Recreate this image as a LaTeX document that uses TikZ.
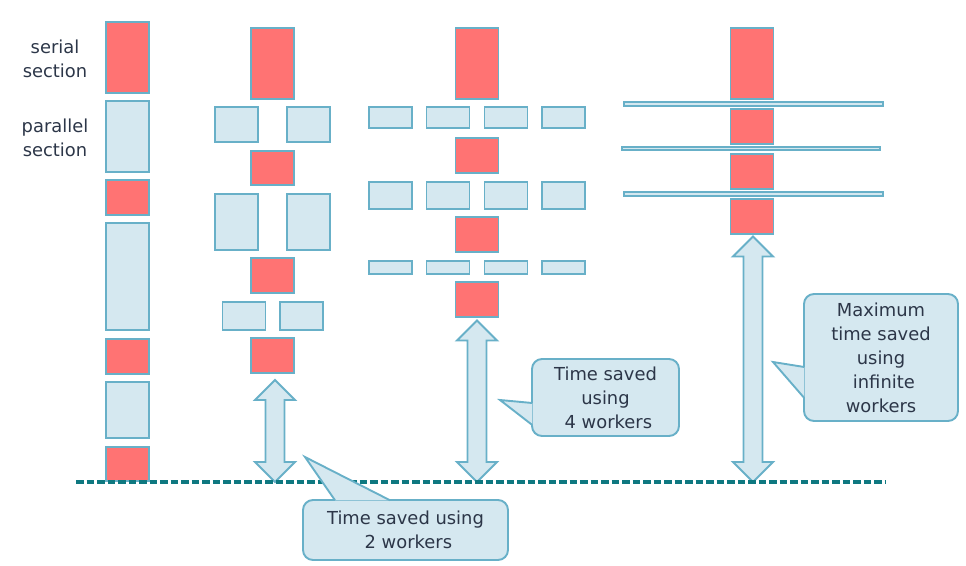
\documentclass[tikz,border=0pt]{standalone}
\usepackage{fontspec}
\setmainfont{DejaVu Sans}
\usetikzlibrary{calc}
\definecolor{serialred}{RGB}{255,115,115}
\definecolor{edgeblue}{RGB}{104,176,200}
\definecolor{parfill}{RGB}{213,232,240}
\definecolor{dashteal}{RGB}{14,120,128}
\definecolor{textgrey}{RGB}{44,54,72}

% double arrow from a top point down to the dashed line
\newcommand{\gaparrow}[1]{%
  \draw[saved] let \p1=(#1), \p2=(#1 |- baseW) in
    (\x1,\y1) -- ++(20pt,-20pt) -- ++(-10.5pt,0pt) -- (\x1+9.5pt,\y2+20pt)
    -- ++(10.5pt,0pt) -- (\x1,\y2) -- ++(-20pt,20pt) -- ++(10.5pt,0pt)
    -- (\x1-9.5pt,\y1-20pt) -- ++(-10.5pt,0pt) -- cycle;}

\begin{document}
\begin{tikzpicture}[x=1pt,y=-1pt,font=\fontsize{17.9}{24}\selectfont,text=textgrey]
    \useasboundingbox (0,0) rectangle (966,565);

    \tikzstyle{serial}=[draw=edgeblue,fill=serialred,line width=1.9pt,inner sep=0pt,minimum width=43]
    \tikzstyle{parallel}=[draw=edgeblue,fill=parfill,line width=1.9pt,inner sep=0pt,minimum width=43]
    \tikzstyle{saved}=[draw=edgeblue,fill=parfill,line width=1.9pt,line join=miter]
    \tikzstyle{callout}=[draw=edgeblue,fill=parfill,line width=1.9pt,rounded corners=10pt,inner sep=0pt,align=center]
    \tikzstyle{pointer}=[draw=edgeblue,fill=parfill,line width=1.9pt,line join=miter]

    \node[align=center] (serialL) at (55,58.4) {serial\\section};
    \node[align=center] (parallelL) at (55,137.4) {parallel\\section};

    % one worker
    \node[serial,minimum height=71] (c1s1) at (127.5,57.5) {};
    \node[parallel,minimum height=71] (c1p1) at (127.5,136.5) {};
    \node[serial,minimum height=35] (c1s2) at (127.5,197.5) {};
    \node[parallel,minimum height=107] (c1p2) at (127.5,276.5) {};
    \node[serial,minimum height=35] (c1s3) at (127.5,356.5) {};
    \node[parallel,minimum height=56] (c1p3) at (127.5,410) {};
    \node[serial,minimum height=34] (c1s4) at (127.5,464) {};

    % two workers
    \node[serial,minimum height=71] (c2s1) at (272.5,63.5) {};
    \node[parallel,minimum height=35] (c2p1a) at (236.5,124.5) {};
    \node[parallel,minimum height=35] (c2p1b) at (308.5,124.5) {};
    \node[serial,minimum height=34] (c2s2) at (272.5,168) {};
    \node[parallel,minimum height=56] (c2p2a) at (236.5,222) {};
    \node[parallel,minimum height=56] (c2p2b) at (308.5,222) {};
    \node[serial,minimum height=35] (c2s3) at (272.5,275.5) {};
    \node[parallel,minimum height=28] (c2p3a) at (244,316) {};
    \node[parallel,minimum height=28] (c2p3b) at (301.5,316) {};
    \node[serial,minimum height=35] (c2s4) at (272.5,355.5) {};

    % four workers
    \node[serial,minimum height=71] (c3s1) at (477,63.5) {};
    \node[serial,minimum height=35] (c3s2) at (477,155.5) {};
    \node[serial,minimum height=35] (c3s3) at (477,234.5) {};
    \node[serial,minimum height=35] (c3s4) at (477,299.5) {};
    \foreach \x/\n in {390.5/a,448/b,506/c,563.5/d} {
        \node[parallel,minimum height=21] (c3p1\n) at (\x,117.5) {};
        \node[parallel,minimum height=27] (c3p2\n) at (\x,195.5) {};
        \node[parallel,minimum height=13] (c3p3\n) at (\x,267.5) {};
    }

    % infinite workers
    \node[serial,minimum height=35] (c4s2) at (752,126.5) {};
    \node[serial,minimum height=35] (c4s3) at (752,171.5) {};
    \node[serial,minimum height=71] (c4s1) at (752,63.5) {};
    \node[serial,minimum height=35] (c4s4) at (752,216.5) {};
    \node[parallel,minimum width=259,minimum height=4.2] (c4b1) at (753.5,104) {};
    \node[parallel,minimum width=258,minimum height=3.8] (c4b2) at (751,148.5) {};
    \node[parallel,minimum width=259,minimum height=4.2] (c4b3) at (753.5,194) {};

    \coordinate (baseW) at (76,482);
    \coordinate (baseE) at (885,482);
    \coordinate (c2top) at ($(c2s4.south)+(2.5,6)$);
    \coordinate (c3top) at ($(c3s4.south)+(0,2.5)$);
    \coordinate (c4top) at ($(c4s4.south)+(1,1.5)$);

    \gaparrow{c2top}
    \gaparrow{c3top}
    \gaparrow{c4top}

    \draw[dashteal,line width=3.4pt,dash pattern=on 7.5pt off 3pt] (baseW) -- (baseE);

    \node[callout,minimum width=205,minimum height=60] (save2) at (405.5,530) {Time saved using\\\hspace*{.32em}2 workers};
    \node[callout,minimum width=147,minimum height=77] (save4) at (605.5,397.5) {Time saved\\using\\\hspace*{.32em}4 workers};
    \node[callout,minimum width=154,minimum height=127] (saveInf) at (881,357.5) {Maximum\\time saved\\using\\\hspace*{.32em}infinite\\workers};

    \coordinate (tip2) at (305,457);
    \coordinate (tip4) at (500,400);
    \coordinate (tipInf) at (773,362);

    \path[pointer] ($(save2.north)+(-70.5,1.2)$) -- (tip2) -- ($(save2.north)+(-15.5,1.2)$);
    \path[pointer] ($(save4.west)+(1.2,5.5)$) -- (tip4) -- ($(save4.west)+(1.2,27.5)$);
    \path[pointer] ($(saveInf.west)+(1.2,9.5)$) -- (tipInf) -- ($(saveInf.west)+(1.2,40.5)$);

\end{tikzpicture}
\end{document}
